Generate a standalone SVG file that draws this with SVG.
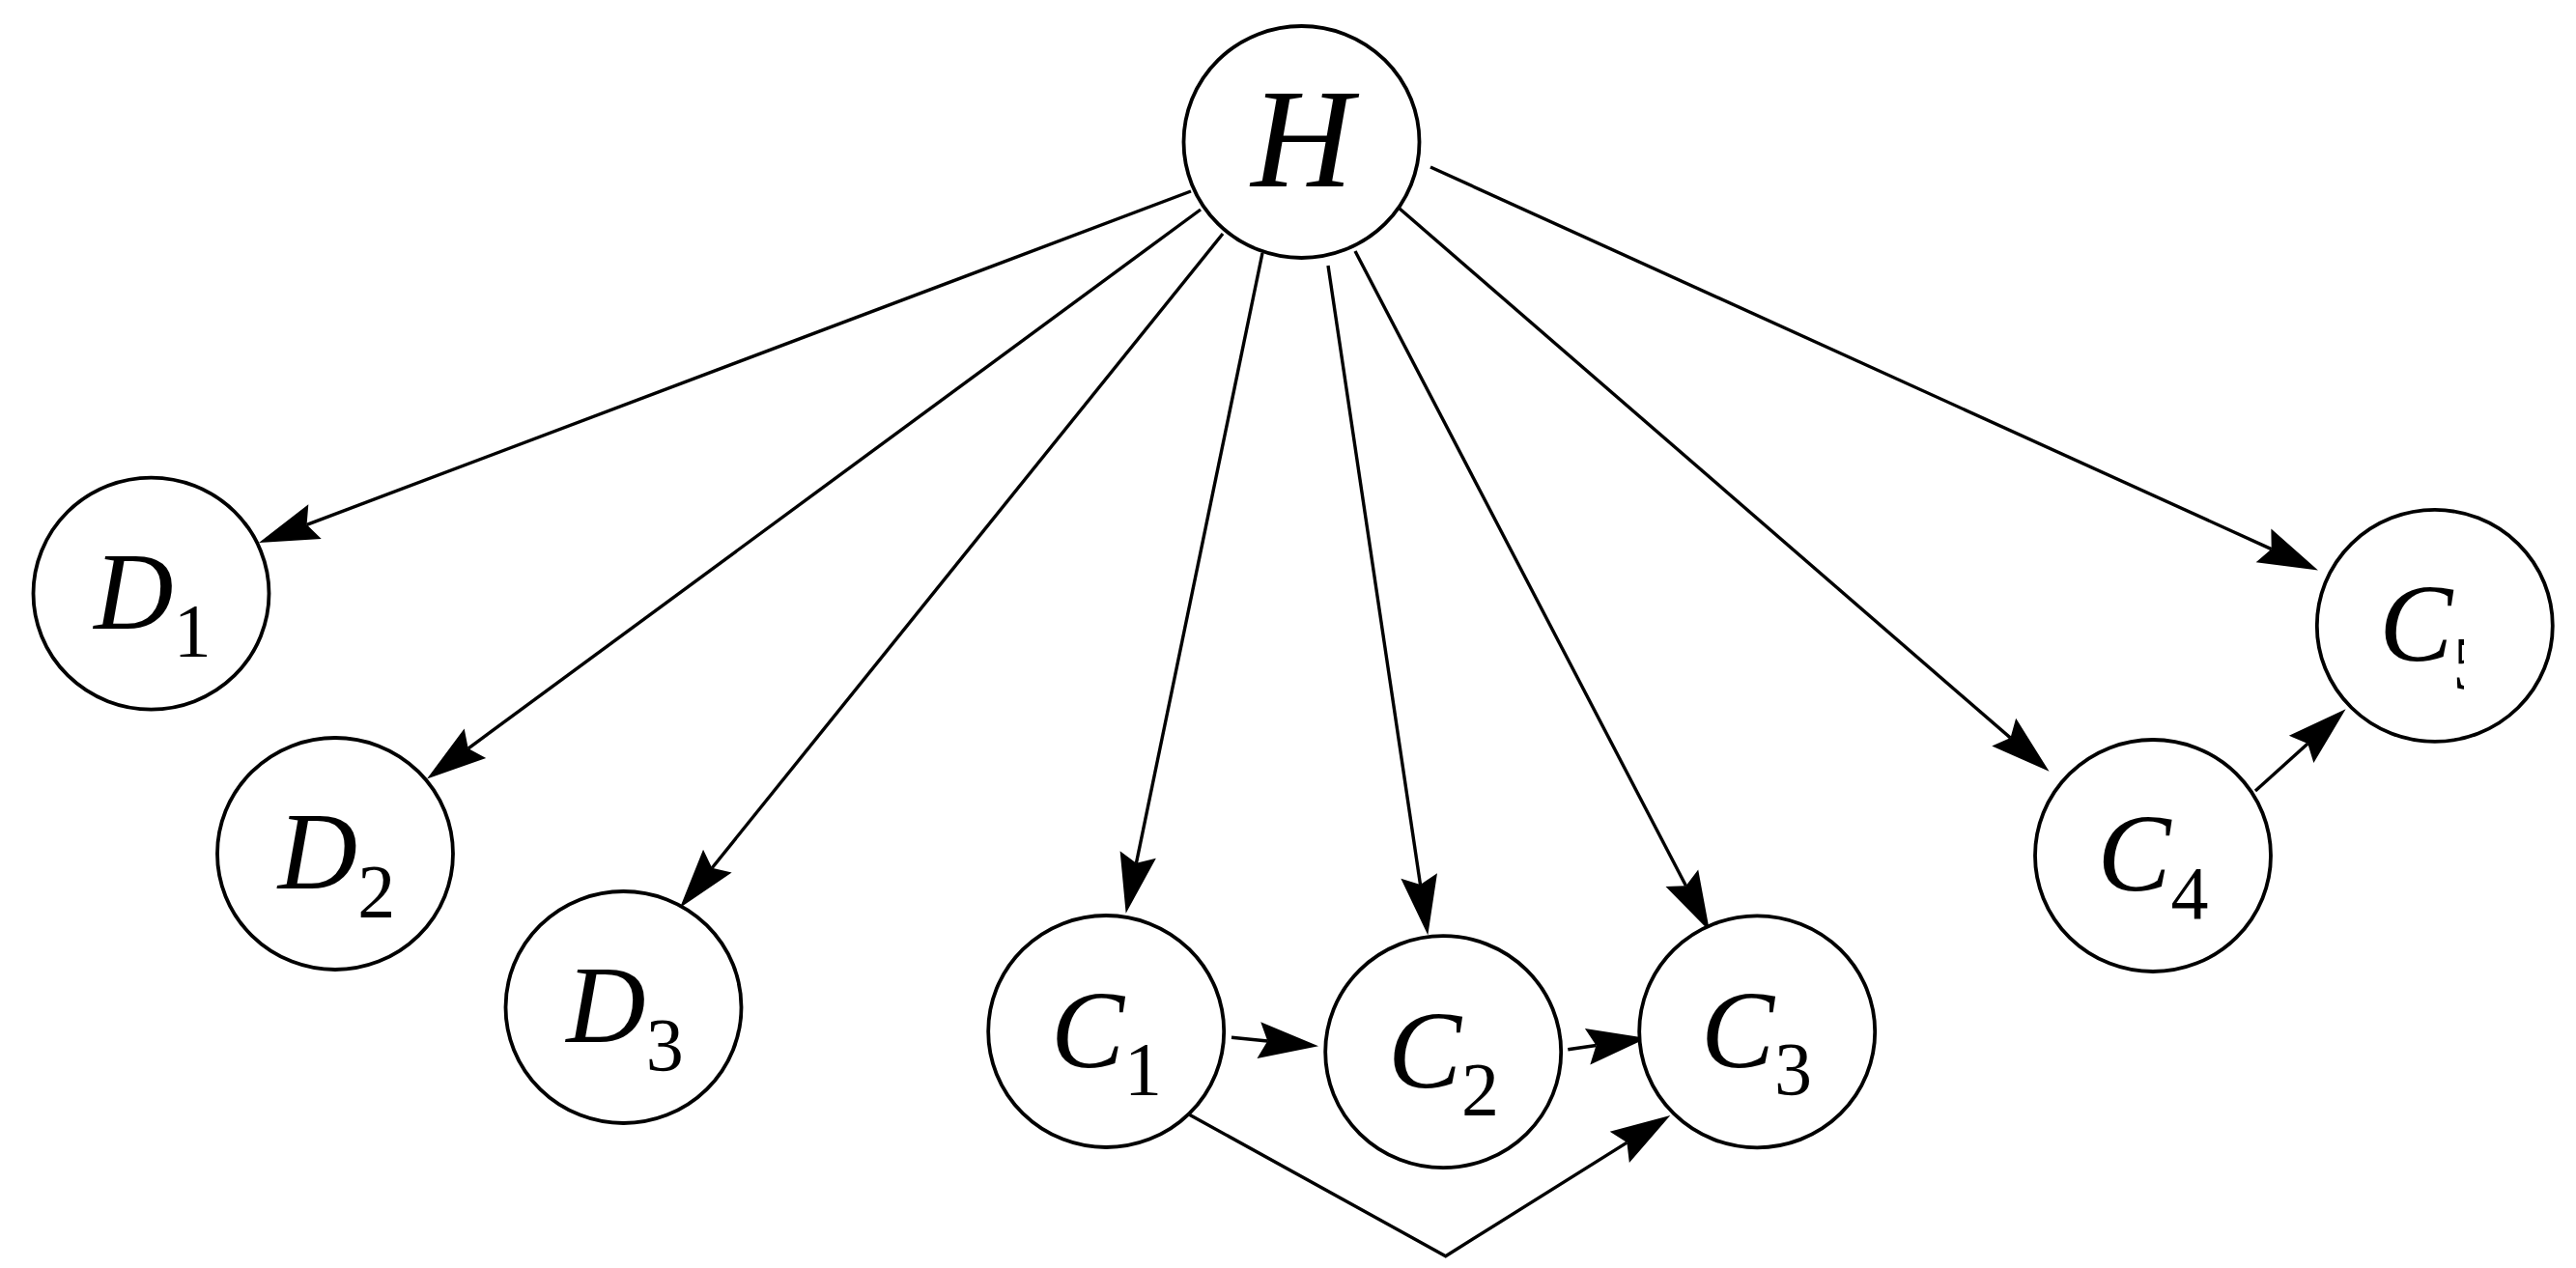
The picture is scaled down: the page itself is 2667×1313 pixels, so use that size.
<svg xmlns="http://www.w3.org/2000/svg" width="2667" height="1313" viewBox="0 0 2667 1313">
<style>
.node{fill:#fff;stroke:#000;stroke-width:3.8}
.edge{fill:none;stroke:#000;stroke-width:3.4;marker-end:url(#ah)}
text{font-family:'Liberation Serif','Times New Roman',Times,serif;fill:#000;text-anchor:middle}
.main{font-style:italic;font-size:114px}
.sub{font-size:78px}
</style>
<defs>
<marker id="ah" markerUnits="userSpaceOnUse" orient="auto" refX="0" refY="0" markerWidth="80" markerHeight="50" overflow="visible">
<path d="M53,0 L-9,-19 L0,0 L-9,19 Z" fill="#000"/>
</marker>
<clipPath id="c5clip" clipPathUnits="userSpaceOnUse"><rect x="2380" y="560" width="171" height="180"/></clipPath>
</defs>
<rect width="2667" height="1313" fill="#fff"/>
<g id="connectors">
<path class="edge" d="M1233,198 L317.6,543.3"/>
<path class="edge" d="M1243,217 L484.7,775.1"/>
<path class="edge" d="M1266,242 L737.2,898.7"/>
<path class="edge" d="M1307,262 L1176.4,893.8"/>
<path class="edge" d="M1375,275 L1470.5,915.9"/>
<path class="edge" d="M1403,260 L1745.5,917.3"/>
<path class="edge" d="M1449,216 L2081.5,764.1"/>
<path class="edge" d="M1481,173 L2351.7,568.6"/>
<path class="edge" d="M2335,819 L2389.3,769.9"/>
<path class="edge" d="M1275,1074.3 L1312.3,1078"/>
<path class="edge" d="M1623.3,1086.7 L1652.5,1082.5"/>
<path class="edge" d="M1231,1154 L1496.7,1300.7 L1684.4,1183.1"/>
</g>
<g id="H">
<ellipse class="node" cx="1347.5" cy="147" rx="122" ry="120"/>
<text x="1348" y="193" font-size="146" font-style="italic">H</text>
</g>
<g id="D1">
<ellipse class="node" cx="156.5" cy="614.6" rx="122" ry="120"/>
<text x="158" y="650.6"><tspan class="main">D</tspan><tspan class="sub" dy="28.5">1</tspan></text>
</g>
<g id="D2">
<ellipse class="node" cx="347" cy="884" rx="122" ry="120"/>
<text x="348.5" y="920"><tspan class="main">D</tspan><tspan class="sub" dy="28.5">2</tspan></text>
</g>
<g id="D3">
<ellipse class="node" cx="645.5" cy="1043" rx="122" ry="120"/>
<text x="647" y="1079"><tspan class="main">D</tspan><tspan class="sub" dy="28.5">3</tspan></text>
</g>
<g id="C1">
<ellipse class="node" cx="1145.2" cy="1068" rx="122" ry="120"/>
<text x="1145.5" y="1104.5"><tspan class="main">C</tspan><tspan class="sub" dy="28.5">1</tspan></text>
</g>
<g id="C2">
<ellipse class="node" cx="1494.2" cy="1089.2" rx="122" ry="120"/>
<text x="1494.5" y="1125.5"><tspan class="main">C</tspan><tspan class="sub" dy="28.5">2</tspan></text>
</g>
<g id="C3">
<ellipse class="node" cx="1819.2" cy="1068.3" rx="122" ry="120"/>
<text x="1818.5" y="1104.5"><tspan class="main">C</tspan><tspan class="sub" dy="28.5">3</tspan></text>
</g>
<g id="C4">
<ellipse class="node" cx="2229" cy="886" rx="122" ry="120"/>
<text x="2229" y="922"><tspan class="main">C</tspan><tspan class="sub" dy="28.5">4</tspan></text>
</g>
<g id="C5">
<ellipse class="node" cx="2520.8" cy="647.9" rx="122" ry="120"/>
<text x="2520.8" y="684" clip-path="url(#c5clip)"><tspan class="main">C</tspan><tspan class="sub" dy="28.5">5</tspan></text>
</g>
</svg>
